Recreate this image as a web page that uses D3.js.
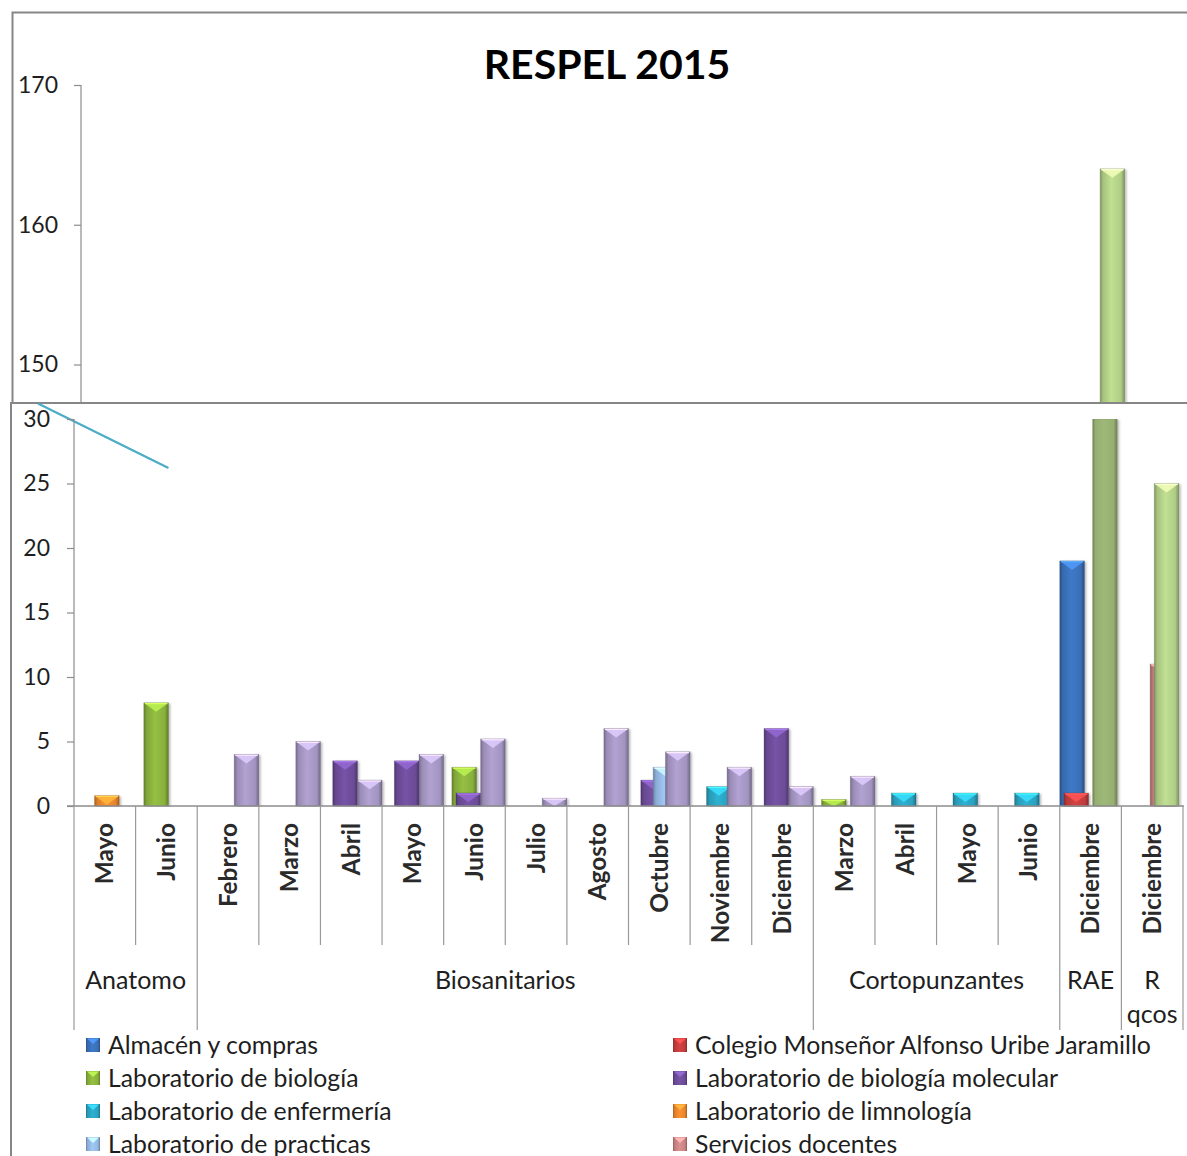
<!DOCTYPE html>
<html><head><meta charset="utf-8">
<script src="https://cdn.jsdelivr.net/npm/d3@7"></script>
<style>
html,body{margin:0;padding:0;background:#fff;overflow:hidden;}
text{font-family:Lato,"Open Sans",sans-serif;fill:#1e1e1e;}
</style></head>
<body>
<svg id="c" width="1187" height="1156"></svg>
<script>
// ---------- data ----------
const groups = ["Anatomo","Anatomo","Biosanitarios","Biosanitarios","Biosanitarios","Biosanitarios","Biosanitarios","Biosanitarios","Biosanitarios","Biosanitarios","Biosanitarios","Biosanitarios","Cortopunzantes","Cortopunzantes","Cortopunzantes","Cortopunzantes","RAE","R qcos"];
const months = ["Mayo","Junio","Febrero","Marzo","Abril","Mayo","Junio","Julio","Agosto","Octubre","Noviembre","Diciembre","Marzo","Abril","Mayo","Junio","Diciembre","Diciembre"];
const _ = null;
const almacenCompras      = [_,_,_,_,_,_,_,_,_,_,_,_,_,_,_,_,19,_];
const colegioMonsenor     = [_,_,_,_,_,_,_,_,_,_,_,_,_,_,_,_,1,_];
const labBiologia         = [_,8,_,_,_,_,3,_,_,_,_,_,0.5,_,_,_,_,_];
const labBiologiaMolec    = [_,_,_,_,3.5,3.5,1,_,_,2,_,6,_,_,_,_,_,_];
const labEnfermeria       = [_,_,_,_,_,_,_,_,_,_,1.5,_,_,1,1,1,_,_];
const labLimnologia       = [0.8,_,_,_,_,_,_,_,_,_,_,_,_,_,_,_,_,_];
const labPracticas        = [_,_,_,_,_,_,_,_,_,3,_,_,_,_,_,_,_,_];
const serviciosDocentes   = [_,_,_,_,_,_,_,_,_,_,_,_,_,_,_,_,_,11];
const serviciosGenerales  = [_,_,_,_,_,_,_,_,_,_,_,_,_,_,_,_,164,25];
const unidadesAcademicas  = [_,_,4,5,2,4,5.2,0.6,6,4.2,3,1.5,2.3,_,_,_,_,_];
const seriesNames = ["Almacén y compras","Colegio Monseñor Alfonso Uribe Jaramillo","Laboratorio de biología","Laboratorio de biología molecular","Laboratorio de enfermería","Laboratorio de limnología","Laboratorio de practicas","Servicios docentes","Servicios generales","Unidades académicas"];
const seriesValues = [almacenCompras,colegioMonsenor,labBiologia,labBiologiaMolec,labEnfermeria,labLimnologia,labPracticas,serviciosDocentes,serviciosGenerales,unidadesAcademicas];
const seriesColors = ["#3a6fb6","#c23c3c","#88b03c","#6c4c98","#2aa2c0","#e8852c","#93b7e2","#c98483","#b0cd86","#a294c0"];
const topTicks = [150,160,170];
const bottomTicks = [0,5,10,15,20,25,30];
const title = "RESPEL 2015";
const decorLineValues = [31.2, 26.2];

// ---------- setup ----------
const svg = d3.select("#c");
const defs = svg.append("defs");
const N = seriesNames.length;
seriesColors.forEach((c,i)=>{
  const g = defs.append("linearGradient").attr("id","g"+i).attr("x1",0).attr("x2",1).attr("y1",0).attr("y2",0);
  const base = d3.color(c);
  [[0,base.darker(0.9)],[0.12,base.darker(0.15)],[0.45,base.brighter(0.25)],[0.85,base],[1,base.darker(1.0)]]
    .forEach(([o,col])=>g.append("stop").attr("offset",o).attr("stop-color",col.formatHex()));
  const g2 = defs.append("linearGradient").attr("id","gc"+i).attr("x1",0).attr("x2",1).attr("y1",0).attr("y2",0);
  const b2 = d3.color(c).darker(0.45);
  [[0,b2.darker(0.8)],[0.12,b2],[0.45,b2.brighter(0.15)],[0.85,b2],[1,b2.darker(0.9)]]
    .forEach(([o,col])=>g2.append("stop").attr("offset",o).attr("stop-color",col.formatHex()));
});
const sh = defs.append("filter").attr("id","sh").attr("x","-30%").attr("y","-10%").attr("width","160%").attr("height","130%");
sh.append("feDropShadow").attr("dx",1.5).attr("dy",1).attr("stdDeviation",1.3).attr("flood-color","#000").attr("flood-opacity",0.3);

const idx = d3.range(months.length);
const barFrac = 0.4;

function drawBars(g, x, y, yMin, yMax, clipId){
  const bw = x.bandwidth();
  const w = bw*barFrac, step = bw*(1-barFrac)/(N-1);
  const data = [];
  seriesValues.forEach((vals,s)=>vals.forEach((v,i)=>{ if(v!=null && v>yMin) data.push({s,i,v}); }));
  const gb = g.append("g").attr("clip-path",`url(#${clipId})`);
  data.forEach(d=>{
    const x0 = x(d.i) + d.s*step;
    const clipped = d.v > yMax;
    const yTop = y(Math.min(d.v,yMax));
    const yBot = y(Math.max(yMin,0));
    const h = yBot - yTop;
    const bg = gb.append("g");
    bg.append("rect").attr("x",x0).attr("y",yTop).attr("width",w).attr("height",h)
      .attr("fill",`url(#${clipped?"gc":"g"}${d.s})`).attr("filter","url(#sh)")
      .attr("stroke",d3.color(seriesColors[d.s]).darker(1.2).formatHex()).attr("stroke-opacity",0.35).attr("stroke-width",0.8);
    if(!clipped){
      const dd = Math.min(9,h);
      const lc = d3.color(seriesColors[d.s]).brighter(0.9).formatHex();
      bg.append("polygon")
        .attr("points",[[x0+1,yTop+0.8],[x0+w-1,yTop+0.8],[x0+w/2,yTop+dd]].map(p=>p.join(",")).join(" "))
        .attr("fill",lc).attr("opacity",0.85);
      bg.append("line").attr("x1",x0+1).attr("x2",x0+w-1).attr("y1",yTop+0.8).attr("y2",yTop+0.8)
        .attr("stroke",d3.color(seriesColors[d.s]).brighter(1.3).formatHex()).attr("stroke-width",1.2);
    }
  });
}

// ---------- top panel ----------
svg.append("rect").attr("x",12.5).attr("y",12.5).attr("width",1250).attr("height",1250)
  .attr("fill","#fff").attr("stroke","#868686").attr("stroke-width",2);
svg.append("text").attr("x",607).attr("y",79).attr("text-anchor","middle")
  .attr("font-size",41).attr("font-weight",700).style("fill","#000").text(title);

const xTop = d3.scaleBand().domain(idx).range([81,1190.5]).paddingInner(0).paddingOuter(0);
const yTop = d3.scaleLinear().domain([150,170]).range([364.5,85]);
defs.append("clipPath").attr("id","clipTop").append("rect").attr("x",0).attr("y",80).attr("width",1300).attr("height",323);
const gTop = svg.append("g");
drawBars(gTop, xTop, yTop, yTop.invert(403), 170, "clipTop");
const axTop = gTop.append("g").attr("transform","translate(81,0)")
  .call(d3.axisLeft(yTop).tickValues(topTicks).tickSize(7).tickPadding(16).tickFormat(d3.format("d")));
axTop.select(".domain").remove();
gTop.append("line").attr("x1",81).attr("x2",81).attr("y1",85).attr("y2",403).attr("stroke","#8c8c8c").attr("stroke-width",1.2);
axTop.selectAll(".tick line").attr("stroke","#8c8c8c").attr("stroke-width",1.2);
axTop.selectAll(".tick text").attr("font-size",23).style("font-family","Lato").style("fill","#1e1e1e");

// ---------- bottom panel ----------
svg.append("rect").attr("x",11).attr("y",403).attr("width",1250).attr("height",900)
  .attr("fill","#fff").attr("stroke","#868686").attr("stroke-width",2);
const x = d3.scaleBand().domain(idx).range([74,1183]).paddingInner(0).paddingOuter(0);
const y = d3.scaleLinear().domain([0,30]).range([806,419]);
defs.append("clipPath").attr("id","clipBot").append("rect").attr("x",0).attr("y",419).attr("width",1300).attr("height",388);
const gB = svg.append("g");

// decorative cyan line in the upper-left of the lower panel
gB.append("line")
  .attr("x1",38).attr("y1",y(decorLineValues[0]))
  .attr("x2",x(1)+x.bandwidth()*(2*(1-barFrac)/(N-1)+barFrac)).attr("y2",y(decorLineValues[1]))
  .attr("stroke","#4bacc6").attr("stroke-width",2.2);

drawBars(gB, x, y, 0, 30, "clipBot");

const axY = gB.append("g").attr("transform","translate(74,0)")
  .call(d3.axisLeft(y).tickValues(bottomTicks).tickSize(7).tickPadding(17).tickFormat(d3.format("d")));
axY.select(".domain").remove();
gB.append("line").attr("x1",74).attr("x2",74).attr("y1",419).attr("y2",806).attr("stroke","#8c8c8c").attr("stroke-width",1.2);
axY.selectAll(".tick line").attr("stroke","#8c8c8c").attr("stroke-width",1.2);
axY.selectAll(".tick text").attr("font-size",23).style("font-family","Lato").style("fill","#1e1e1e");

gB.append("line").attr("x1",67).attr("x2",1184).attr("y1",806).attr("y2",806).attr("stroke","#8c8c8c").attr("stroke-width",1.4);

// category dividers
const boundaries = d3.range(months.length+1);
boundaries.forEach(b=>{
  const xx = b<months.length ? x(b) : x(months.length-1)+x.bandwidth();
  const isGroup = b===0 || b===months.length || groups[b]!==groups[b-1];
  gB.append("line").attr("x1",xx).attr("x2",xx).attr("y1",806).attr("y2",isGroup?1030:945)
    .attr("stroke","#9a9a9a").attr("stroke-width",1.2);
});

// month labels
gB.selectAll("text.month").data(idx).join("text").attr("class","month")
  .attr("transform",i=>`translate(${x(i)+x.bandwidth()/2+8.5},823) rotate(-90)`)
  .attr("text-anchor","end").attr("font-size",24.4).attr("font-weight",700)
  .style("fill","#2a2a2a").text(i=>months[i]);

// group labels
const groupNames = Array.from(new Set(groups));
groupNames.forEach(gn=>{
  const ids = idx.filter(i=>groups[i]===gn);
  const x0 = x(ids[0]), x1 = x(ids[ids.length-1])+x.bandwidth();
  const cx = (x0+x1)/2;
  const words = (x1-x0) < 80 && gn.includes(" ") ? gn.split(" ") : [gn];
  words.forEach((w,k)=>{
    gB.append("text").attr("x",cx).attr("y",989+k*34).attr("text-anchor","middle")
      .attr("font-size",25).text(w);
  });
});

// legend (two columns)
const lg = svg.append("g");
seriesNames.forEach((nm,s)=>{
  const col = s%2, row = Math.floor(s/2);
  const lx = col===0 ? 86 : 673, ly = 1045 + row*33;
  const gi = lg.append("g");
  gi.append("rect").attr("x",lx).attr("y",ly-7).attr("width",14).attr("height",14).attr("fill",`url(#g${s})`);
  gi.append("polygon").attr("points",`${lx+1},${ly-6.5} ${lx+13},${ly-6.5} ${lx+7},${ly-1}`)
    .attr("fill",d3.color(seriesColors[s]).brighter(0.9).formatHex());
  gi.append("text").attr("x",lx+22).attr("y",ly+8.5).attr("font-size",24.8).text(nm);
});
</script>
</body></html>
